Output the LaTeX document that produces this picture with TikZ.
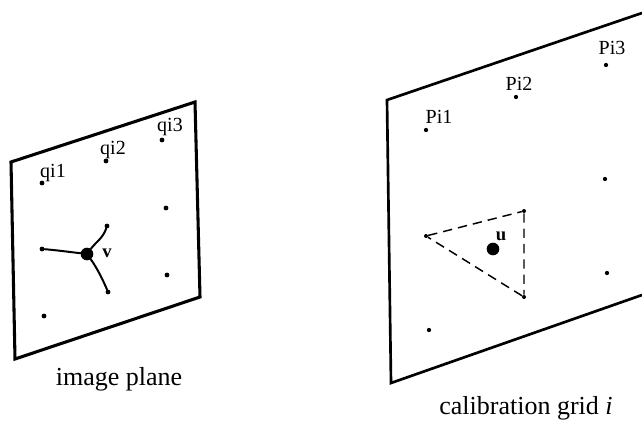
\documentclass[tikz,border=0pt]{standalone}
\usepackage{fontspec}
\setmainfont{Liberation Serif}
\tikzset{
  plane/.style={draw=black,line width=2.3pt,line join=miter},
  griddot/.style={circle,fill=black,inner sep=0pt,minimum size=3.6pt},
  bigdot/.style={circle,fill=black,inner sep=0pt,minimum size=9.5pt},
  ptlabel/.style={inner sep=0pt,font=\fontsize{15}{16}\selectfont},
  caption/.style={inner sep=0pt,font=\fontsize{19.5}{21}\selectfont},
  spoke/.style={line width=1.5pt,line cap=round},
  dash tri/.style={line width=1.1pt,dash pattern=on 7pt off 4.5pt}
}
\begin{document}
\begin{tikzpicture}[x=0.75pt,y=-0.75pt]
\useasboundingbox (0,0) rectangle (642,428);
% image plane
\coordinate (a1) at (11,162); \coordinate (a2) at (195,102);
\coordinate (a3) at (200,297); \coordinate (a4) at (15,359);
\draw[plane] (a1) -- (a2) -- (a3) -- (a4) -- cycle;
\node[griddot] (q1) at (42,183) {};
\node[griddot] (q2) at (106,161) {};
\node[griddot] (q3) at (162,140) {};
\node[griddot] (q4) at (166,208) {};
\node[griddot] (q5) at (167,275) {};
\node[griddot] (q6) at (44,316) {};
\node[griddot] (e1) at (42,249) {};
\node[griddot] (e2) at (107,226) {};
\node[griddot] (e3) at (108,292) {};
\node[bigdot] (v) at (87,254) {};
\draw[spoke] (v) .. controls (70,252) and (55,250) .. (e1);
\draw[spoke] (v) .. controls (96,242) and (103,238) .. (e2);
\draw[spoke] (v) .. controls (97,268) and (103,280) .. (e3);
\node[ptlabel] (lq1) at (53,173) {qi1};
\node[ptlabel] (lq2) at (113,150) {qi2};
\node[ptlabel] (lq3) at (170,127) {qi3};
\node[ptlabel,font=\fontsize{14}{15}\selectfont\bfseries] (lv) at (107,253) {v};
\node[caption] (c1) at (119,379) {image plane};
% calibration grid
\coordinate (b1) at (387,100); \coordinate (b2) at (642,13);
\coordinate (b3) at (642,295); \coordinate (b4) at (391,383);
\draw[plane,line width=2pt] (b2) -- (b1) -- (b4) -- (b3);
\node[griddot,minimum size=3.2pt] (p1) at (426,130) {};
\node[griddot,minimum size=3.2pt] (p2) at (516,97) {};
\node[griddot,minimum size=3.2pt] (p3) at (606,65) {};
\node[griddot,minimum size=3.2pt] (p4) at (605,179) {};
\node[griddot,minimum size=3.2pt] (p5) at (607,273) {};
\node[griddot,minimum size=3.2pt] (p6) at (429,330) {};
\node[griddot,minimum size=3pt] (t1) at (426,236) {};
\node[griddot,minimum size=3pt] (t2) at (524,211) {};
\node[griddot,minimum size=3pt] (t3) at (524,297) {};
\draw[dash tri] (t1) -- (t2) -- (t3) -- (t1);
\node[bigdot] (u) at (493,249) {};
\node[ptlabel] (lp1) at (439,117) {Pi1};
\node[ptlabel] (lp2) at (519,84) {Pi2};
\node[ptlabel] (lp3) at (612,48) {Pi3};
\node[ptlabel,font=\fontsize{14}{15}\selectfont\bfseries] (lu) at (501,236) {u};
\node[caption] (c2) at (526,408) {calibration grid \textit{i}};
\end{tikzpicture}
\end{document}
